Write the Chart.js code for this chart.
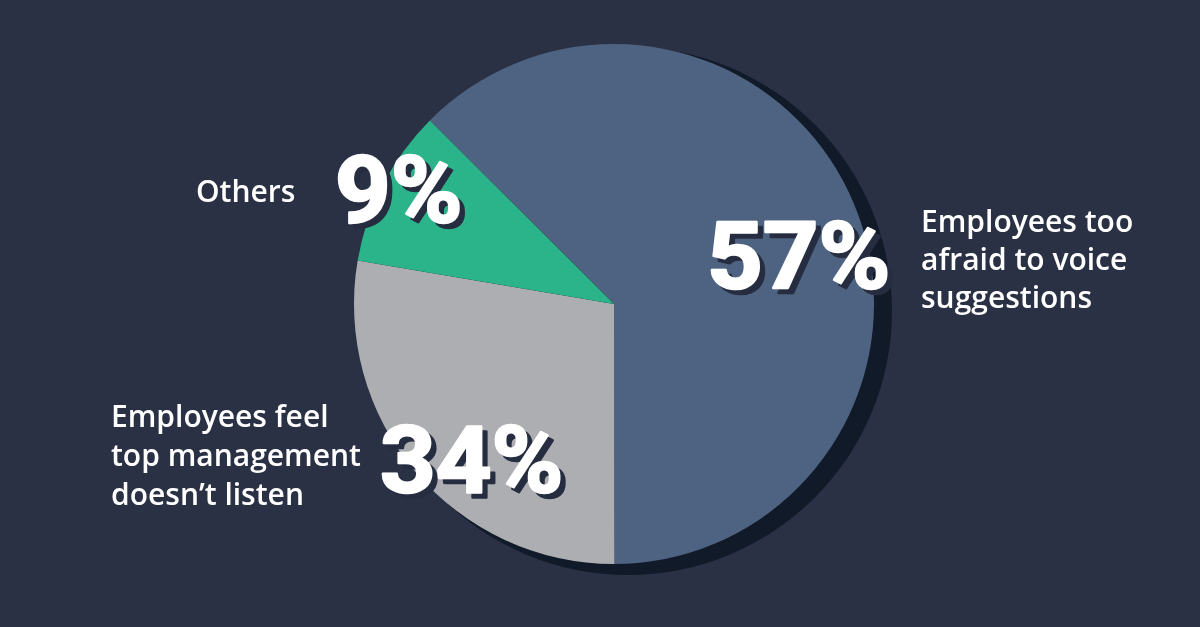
<!DOCTYPE html>
<html>
<head>
<meta charset="utf-8">
<script src="https://cdn.jsdelivr.net/npm/chart.js@4/dist/chart.umd.min.js"></script>
<style>
  html, body { margin: 0; padding: 0; background: #2a3145; }
  #wrap { width: 1200px; height: 627px; position: relative; }
</style>
</head>
<body>
<div id="wrap"><canvas id="pie" width="1200" height="627"></canvas></div>
<script>
const categories = ["Employees too afraid to voice suggestions", "Employees feel top management doesn't listen", "Others"];
const sliceShares = [62.5, 27.7, 9.8];
const percentLabels = ["57%", "34%", "9%"];
const sliceColors = ["#4e6381", "#adaeb2", "#2bb389"];

// text blocks: [lines], left x, first baseline, line height
const captionLines = [
    ["Employees too", "afraid to voice", "suggestions"],
    ["Employees feel", "top management", "doesn\u2019t listen"],
    ["Others"]
];
const captionPos = [[921, 232, 38], [111, 427, 39], [196, 202, 38]];
const percentPos = [[707, 288], [380, 492], [335, 222]];

const shadowPlugin = {
    id: "pieShadow",
    beforeDatasetsDraw(chart) {
        let arc = chart.getDatasetMeta(0).data[0];
        let ctx = chart.ctx;
        ctx.save();
        ctx.fillStyle = "#111a29";
        ctx.beginPath();
        ctx.arc(arc.x + 14, arc.y + 7, arc.outerRadius + 4, 0, Math.PI * 2);
        ctx.fill();
        ctx.restore();
    }
};

const textPlugin = {
    id: "pieText",
    afterDraw(chart) {
        let ctx = chart.ctx;
        ctx.save();
        ctx.textAlign = "left";
        ctx.textBaseline = "alphabetic";

        // captions
        ctx.fillStyle = "#ffffff";
        ctx.font = "600 30px 'Open Sans'";
        captionLines.forEach((lines, i) => {
            let [x, y, lh] = captionPos[i];
            lines.forEach((line, j) => ctx.fillText(line, x, y + j * lh));
        });

        // big percentages, a bit wider and heavier, with a hard drop shadow
        ctx.font = "bold 93px Roboto";
        ctx.lineJoin = "round";
        ctx.lineWidth = 2.5;
        percentLabels.forEach((txt, i) => {
            let [x, y] = percentPos[i];
            ctx.save();
            ctx.translate(x, y);
            ctx.scale(1.045, 1);
            ctx.fillStyle = "#262d40";
            ctx.strokeStyle = "#262d40";
            ctx.fillText(txt, 5, 5);
            ctx.strokeText(txt, 5, 5);
            ctx.fillStyle = "#ffffff";
            ctx.strokeStyle = "#ffffff";
            ctx.fillText(txt, 0, 0);
            ctx.strokeText(txt, 0, 0);
            ctx.restore();
        });
        ctx.restore();
    }
};

new Chart(document.getElementById("pie").getContext("2d"), {
    type: "pie",
    data: {
        labels: categories,
        datasets: [{
            data: sliceShares,
            backgroundColor: sliceColors,
            borderWidth: 0
        }]
    },
    options: {
        responsive: false,
        animation: false,
        rotation: -45.1,
        layout: { padding: { left: 354, right: 326, top: 44, bottom: 63 } },
        plugins: {
            legend: { display: false },
            tooltip: { enabled: false }
        },
        events: []
    },
    plugins: [shadowPlugin, textPlugin]
});
</script>
</body>
</html>
